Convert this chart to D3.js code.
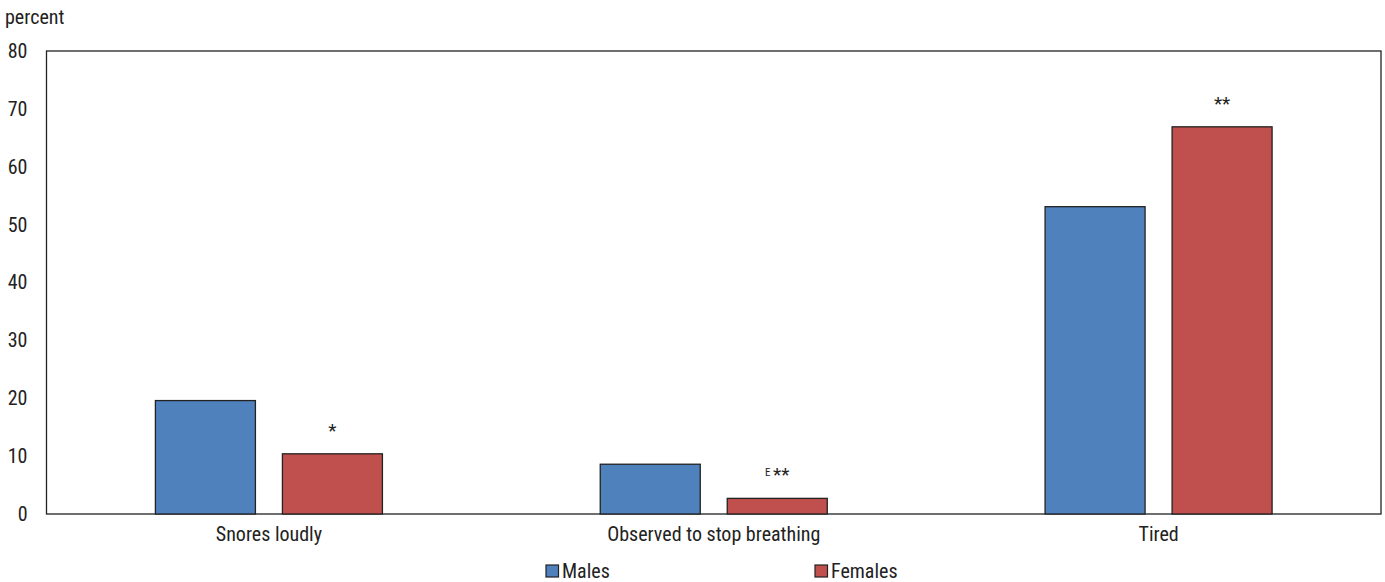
<!DOCTYPE html>
<html>
<head>
<meta charset="utf-8">
<script src="https://cdn.jsdelivr.net/npm/d3@7"></script>
<style>
  html, body { margin: 0; padding: 0; background: #fff; }
  svg text { font-family: "Liberation Sans Narrow", "Arial Narrow", "Roboto Condensed", "Liberation Sans", sans-serif; fill: #222; }
</style>
</head>
<body>
<svg id="chart" width="1385" height="582"></svg>
<script>
// Sleep-related symptoms by sex (percent)
const categories = ["Snores loudly", "Observed to stop breathing", "Tired"];
const seriesNames = ["Males", "Females"];
const males = [19.6, 8.6, 53.1];
const females = [10.4, 2.7, 66.9];
const femaleNotes = [{ e: "", stars: "*" }, { e: "E", stars: "**" }, { e: "", stars: "**" }];
const yTicks = [0, 10, 20, 30, 40, 50, 60, 70, 80];
const colors = ["#4F81BD", "#C0504D"];

const svg = d3.select("#chart");
const margin = { left: 46.5, right: 1381, top: 51, bottom: 514 };

const x = d3.scaleBand().domain(categories).range([margin.left, margin.right]);
const xs = d3.scaleBand().domain(seriesNames).range([0, x.bandwidth()]).paddingInner(0.2126).paddingOuter(0.8575);
const y = d3.scaleLinear().domain([0, 80]).range([margin.bottom, margin.top]);

// frame
svg.append("rect")
  .attr("x", margin.left).attr("y", margin.top)
  .attr("width", margin.right - margin.left).attr("height", margin.bottom - margin.top)
  .attr("fill", "none").attr("stroke", "#222").attr("stroke-width", 1.3);

// y axis labels
const yAxis = d3.axisLeft(y).tickValues(yTicks).tickSize(0).tickPadding(19);
const gy = svg.append("g").attr("transform", `translate(${margin.left},0)`).call(yAxis);
gy.select(".domain").remove();
gy.selectAll("text").attr("font-size", 20).style("font-family", null);

svg.append("text").attr("x", 5).attr("y", 24).attr("font-size", 20).text("percent");

// bars
const data = categories.map((c, i) => ({ cat: c, vals: [males[i], females[i]], note: femaleNotes[i] }));
const groups = svg.selectAll("g.cat").data(data).join("g").attr("class", "cat")
  .attr("transform", d => `translate(${x(d.cat)},0)`);

groups.selectAll("rect").data(d => d.vals.map((v, j) => ({ v, s: seriesNames[j], j })))
  .join("rect")
  .attr("x", d => xs(d.s)).attr("width", xs.bandwidth())
  .attr("y", d => y(d.v)).attr("height", d => y(0) - y(d.v))
  .attr("fill", d => colors[d.j]).attr("stroke", "#222").attr("stroke-width", 1.3);

// significance markers above female bars
groups.each(function (d) {
  const g = d3.select(this);
  const cx = xs("Females") + xs.bandwidth() / 2;
  const ty = y(d.vals[1]) - 17;
  const t = g.append("text").attr("x", cx).attr("y", ty).attr("text-anchor", "middle").attr("font-size", 19);
  if (d.note.e) {
    t.append("tspan").attr("font-size", 11).attr("dy", -5).text(d.note.e + " ");
    t.append("tspan").attr("dy", 5).text(d.note.stars);
  } else {
    t.text(d.note.stars);
  }
});

// category labels
const xAxis = d3.axisBottom(x).tickSize(0).tickPadding(13);
const gx = svg.append("g").attr("transform", `translate(0,${margin.bottom})`).call(xAxis);
gx.select(".domain").remove();
gx.selectAll("text").attr("font-size", 20).style("font-family", null);

// legend
const legendX = [546, 815];
const legend = svg.selectAll("g.legend").data(seriesNames).join("g").attr("class", "legend")
  .attr("transform", (d, i) => `translate(${legendX[i]},565)`);
legend.append("rect").attr("width", 12.5).attr("height", 12)
  .attr("fill", (d, i) => colors[i]).attr("stroke", "#222").attr("stroke-width", 1.2);
legend.append("text").attr("x", 16).attr("y", 12.5).attr("font-size", 20).text(d => d);
</script>
</body>
</html>
